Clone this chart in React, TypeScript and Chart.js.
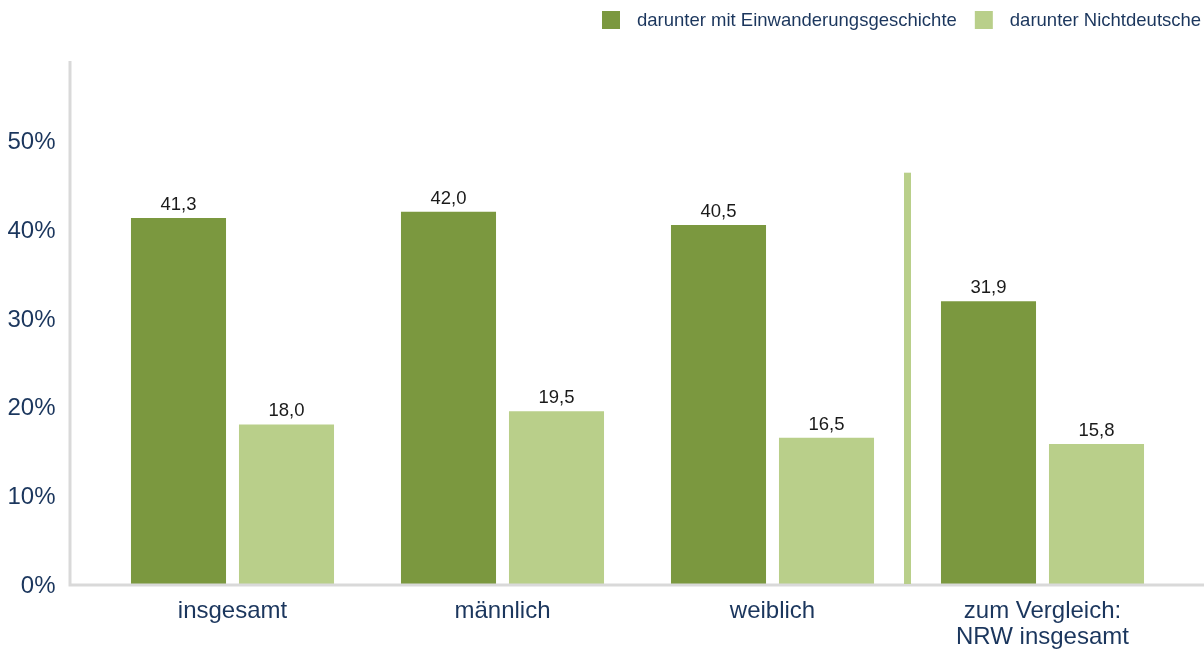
import React, { useEffect, useRef } from "react";
import { Chart, registerables } from "chart.js";

Chart.register(...registerables);

const categories: (string | string[])[] = [
  "insgesamt",
  "männlich",
  "weiblich",
  ["zum Vergleich:", "NRW insgesamt"],
];
const seriesLabels = ["darunter mit Einwanderungsgeschichte", "darunter Nichtdeutsche"];
const einwanderung = [41.3, 42.0, 40.5, 31.9];
const nichtdeutsche = [18.0, 19.5, 16.5, 15.8];
const yTicks = [0, 10, 20, 30, 40, 50];
const separatorTop = 46.4;

const DARK = "#7b983f";
const LIGHT = "#b9cf8a";
const NAVY = "#1b365d";
const FONT = "'Liberation Sans', Arial, sans-serif";

const W = 1204;
const H = 649;

const decorPlugin = {
  id: "decor",
  afterDatasetsDraw(chart: any) {
    const { ctx, chartArea, scales } = chart;
    const x = scales.x;
    const y = scales.y;
    ctx.save();
    // axis lines
    ctx.strokeStyle = "#d9d9d9";
    ctx.lineWidth = 3;
    ctx.beginPath();
    ctx.moveTo(70, chartArea.top);
    ctx.lineTo(70, y.getPixelForValue(0) + 1.5);
    ctx.moveTo(68.5, y.getPixelForValue(0) + 1);
    ctx.lineTo(W, y.getPixelForValue(0) + 1);
    ctx.stroke();
    // separator
    const sx = (x.getPixelForValue(2) + x.getPixelForValue(3)) / 2;
    ctx.fillStyle = LIGHT;
    const top = y.getPixelForValue(separatorTop);
    ctx.fillRect(sx - 3.5, top, 7, y.getPixelForValue(0) - top);
    // y tick labels
    ctx.fillStyle = NAVY;
    ctx.font = `24px ${FONT}`;
    ctx.textAlign = "right";
    ctx.textBaseline = "middle";
    yTicks.forEach((v) => {
      ctx.fillText(`${v}%`, 55.5, y.getPixelForValue(v) + 2);
    });
    // data labels
    ctx.fillStyle = "#1a1a1a";
    ctx.font = `18.5px ${FONT}`;
    ctx.textAlign = "center";
    ctx.textBaseline = "alphabetic";
    chart.data.datasets.forEach((ds: any, di: number) => {
      const meta = chart.getDatasetMeta(di);
      meta.data.forEach((bar: any, i: number) => {
        const v = ds.data[i] as number;
        ctx.fillText(v.toFixed(1).replace(".", ","), bar.x, bar.y - 8);
      });
    });
    // legend
    ctx.font = `18.5px ${FONT}`;
    ctx.textAlign = "left";
    ctx.textBaseline = "middle";
    let lx = 602;
    chart.data.datasets.forEach((ds: any) => {
      ctx.fillStyle = ds.backgroundColor;
      ctx.fillRect(lx, 11, 18, 18);
      lx += 18 + 17;
      ctx.fillStyle = NAVY;
      ctx.fillText(ds.label, lx, 21);
      lx += ctx.measureText(ds.label).width + 18;
    });
    ctx.restore();
  },
};

export default function App() {
  const ref = useRef<HTMLCanvasElement | null>(null);
  useEffect(() => {
    document.body.style.margin = "0";
    const canvas = ref.current;
    if (!canvas) return;
    const chart = new Chart(canvas, {
      type: "bar",
      data: {
        labels: categories,
        datasets: [
          { label: seriesLabels[0], data: einwanderung, backgroundColor: DARK },
          { label: seriesLabels[1], data: nichtdeutsche, backgroundColor: LIGHT },
        ],
      },
      options: {
        animation: false,
        responsive: false,
        maintainAspectRatio: false,
        layout: { padding: { top: 61, right: 26.5, left: 0, bottom: 0 } },
        plugins: { legend: { display: false }, tooltip: { enabled: false } },
        datasets: { bar: { categoryPercentage: 0.8, barPercentage: 0.88 } },
        scales: {
          x: {
            grid: { display: false, drawTicks: false },
            border: { display: false },
            ticks: {
              color: NAVY,
              font: { family: FONT, size: 24, lineHeight: 1.08 },
              padding: 14,
              maxRotation: 0,
              autoSkip: false,
            },
            afterFit: (s: any) => {
              s.height = 65;
            },
          },
          y: {
            min: 0,
            max: 59,
            grid: { display: false, drawTicks: false },
            border: { display: false },
            afterBuildTicks: (s: any) => {
              s.ticks = yTicks.map((v) => ({ value: v }));
            },
            ticks: {
              display: false,
              includeBounds: false,
            },
            afterFit: (s: any) => {
              s.width = 97.5;
            },
          },
        },
      },
      plugins: [decorPlugin],
    });
    return () => chart.destroy();
  }, []);
  return (
    <div style={{ width: W, height: H, position: "relative" }}>
      <canvas ref={ref} width={W} height={H} style={{ display: "block" }} />
    </div>
  );
}
